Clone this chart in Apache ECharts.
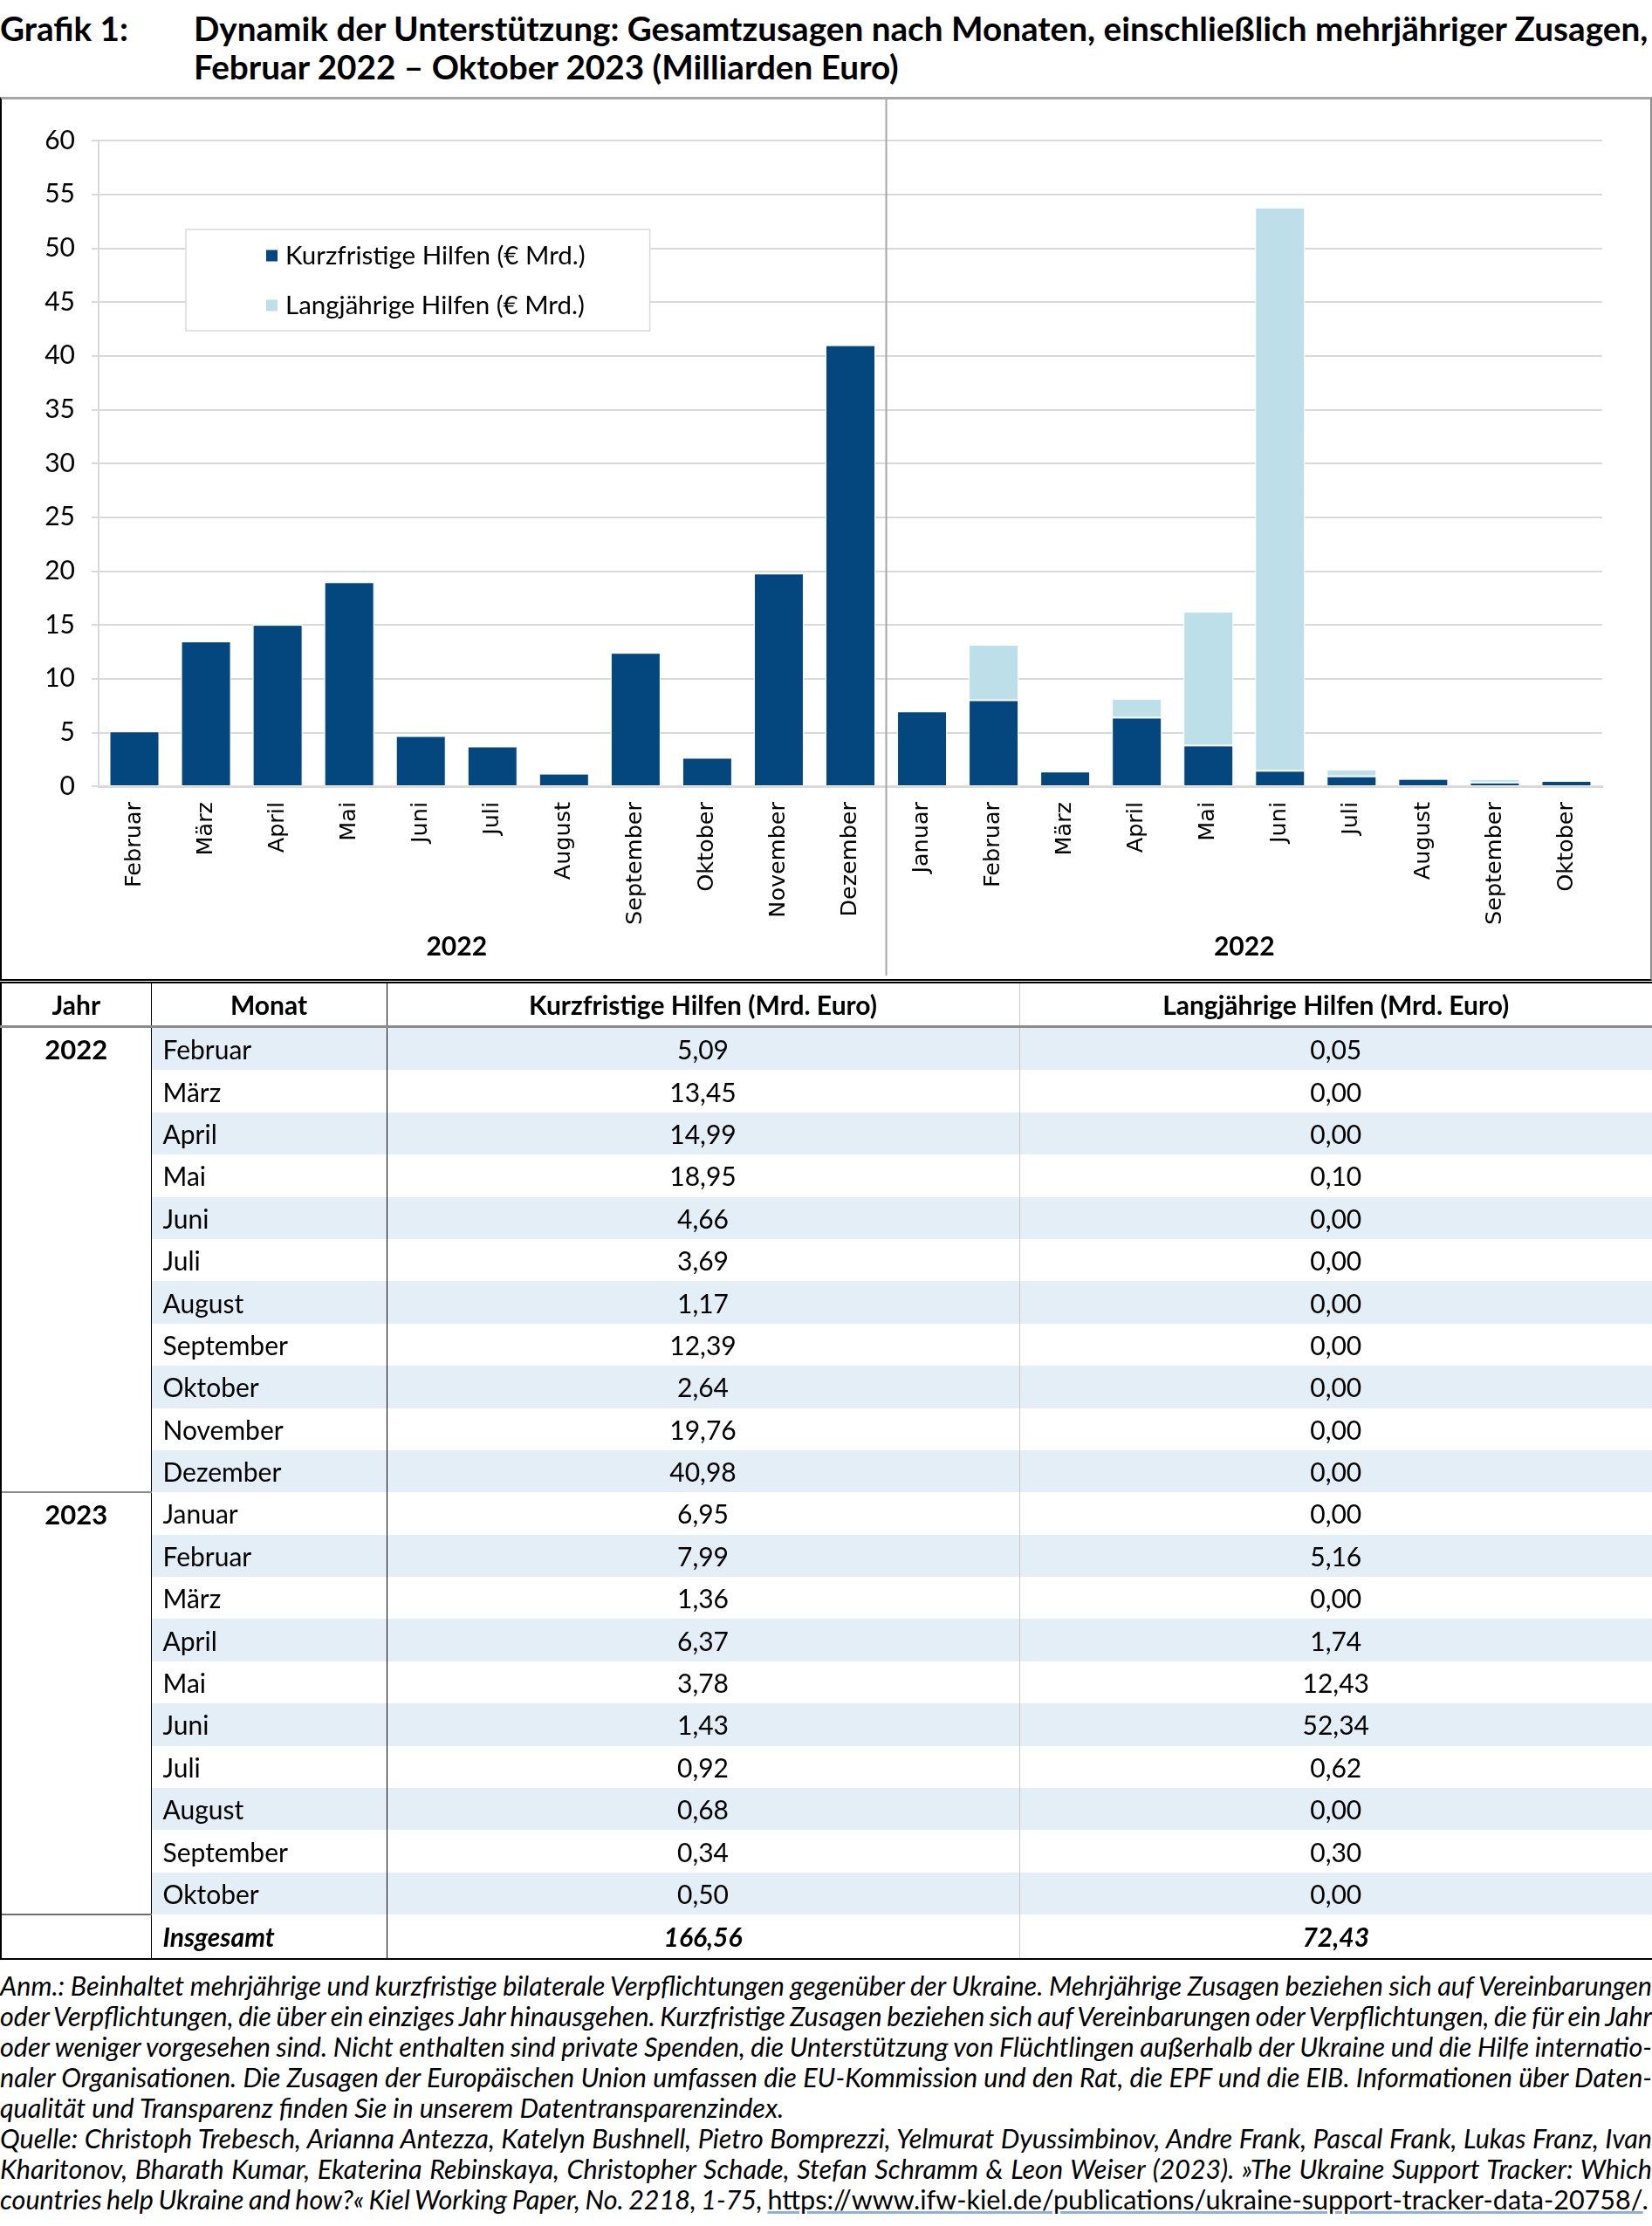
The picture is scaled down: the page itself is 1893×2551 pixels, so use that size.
<!DOCTYPE html>
<html>
<head>
<meta charset="utf-8">
<script src="https://cdn.jsdelivr.net/npm/echarts@6/dist/echarts.min.js"></script>
<style>
  html, body { margin:0; padding:0; background:#fff; }
  body { width:1893px; height:2551px; position:relative; overflow:hidden; font-family:Lato, "Noto Sans", sans-serif; color:#000; }
  #title { position:absolute; top:10px; left:0; width:1893px; font-weight:bold; font-size:38.7px; line-height:44px; }
  #title .lab { position:absolute; left:0; top:0; }
  #title .txt { position:absolute; left:222px; top:0; white-space:nowrap; }
  #chart { position:absolute; top:112px; left:0; width:1893px; height:1010px; }
  #frame { position:absolute; top:111px; left:0; width:1893px; height:1013px; box-sizing:border-box;
           border-top:3px solid #a6a6a6; border-left:2px solid #000; border-right:2px solid #8c8c8c; border-bottom:2px solid #000; pointer-events:none; }
  table#tab { position:absolute; top:1125px; left:0; width:1893px; border-collapse:collapse; table-layout:fixed; font-size:30px; }
  #tab td, #tab th { padding:0; overflow:hidden; white-space:nowrap; }
  #tab th { font-weight:bold; text-align:center !important; padding-left:0 !important; height:48px; border-top:2px solid #000; border-bottom:3px solid #8c8c8c; font-size:30px; }
  #tab td { height:48.4px; }
  #tab .c0 { border-left:2px solid #000; border-right:1.5px solid #000; text-align:center; vertical-align:top; font-weight:bold; font-size:31px; line-height:48px; }
  #tab .c1 { border-right:1.5px solid #000; text-align:left; padding-left:13px; }
  #tab .c2 { border-right:1px solid #c8c8c8; text-align:center; }
  #tab .c3 { border-right:2px solid #000; text-align:center; }
  #tab tr.s td.c1, #tab tr.s td.c2, #tab tr.s td.c3 { background:#e3eef7; }
  #tab td.ysep { border-top:2px solid #8c8c8c; }
  #tab tr.tot td { font-weight:bold; font-style:italic; border-bottom:2px solid #000; height:49px; }
  #tab tr.tot td.c0 { border-top:2px solid #6d6d6d; }
  #notes { position:absolute; top:2258px; left:0; width:1893px; font-style:italic; font-size:30.5px; line-height:35px; }
  #notes div { white-space:nowrap; text-align:justify; text-align-last:justify; }
  #notes div.last { text-align:left; text-align-last:left; }
  #notes .url { font-style:normal; text-decoration:underline; text-decoration-color:#8fb0d8; }
</style>
</head>
<body>
<div id="title">
  <div class="lab">Grafik 1:</div>
  <div class="txt">Dynamik der Unterstützung: Gesamtzusagen nach Monaten, einschließlich mehrjähriger Zusagen,<br>Februar 2022 – Oktober 2023 (Milliarden Euro)</div>
</div>
<div id="chart"></div>
<div id="frame"></div>
<table id="tab"></table>
<div id="notes">
  <div>Anm.: Beinhaltet mehrjährige und kurzfristige bilaterale Verpflichtungen gegenüber der Ukraine. Mehrjährige Zusagen beziehen sich auf Vereinbarungen</div>
  <div>oder Verpflichtungen, die über ein einziges Jahr hinausgehen. Kurzfristige Zusagen beziehen sich auf Vereinbarungen oder Verpflichtungen, die für ein Jahr</div>
  <div>oder weniger vorgesehen sind. Nicht enthalten sind private Spenden, die Unterstützung von Flüchtlingen außerhalb der Ukraine und die Hilfe internatio-</div>
  <div>naler Organisationen. Die Zusagen der Europäischen Union umfassen die EU-Kommission und den Rat, die EPF und die EIB. Informationen über Daten-</div>
  <div class="last">qualität und Transparenz finden Sie in unserem Datentransparenzindex.</div>
  <div>Quelle: Christoph Trebesch, Arianna Antezza, Katelyn Bushnell, Pietro Bomprezzi, Yelmurat Dyussimbinov, Andre Frank, Pascal Frank, Lukas Franz, Ivan</div>
  <div>Kharitonov, Bharath Kumar, Ekaterina Rebinskaya, Christopher Schade, Stefan Schramm &amp; Leon Weiser (2023). »The Ukraine Support Tracker: Which</div>
  <div class="last">countries help Ukraine and how?« Kiel Working Paper, No. 2218, 1-75, <span class="url">https://www.ifw-kiel.de/publications/ukraine-support-tracker-data-20758/</span>.</div>
</div>
<script>
// ---- data ----
const months2022 = ['Februar','März','April','Mai','Juni','Juli','August','September','Oktober','November','Dezember'];
const months2023 = ['Januar','Februar','März','April','Mai','Juni','Juli','August','September','Oktober'];
const kurz2022 = [5.09,13.45,14.99,18.95,4.66,3.69,1.17,12.39,2.64,19.76,40.98];
const kurz2023 = [6.95,7.99,1.36,6.37,3.78,1.43,0.92,0.68,0.34,0.50];
const lang2022 = [0.05,0.00,0.00,0.10,0.00,0.00,0.00,0.00,0.00,0.00,0.00];
const lang2023 = [0.00,5.16,0.00,1.74,12.43,52.34,0.62,0.00,0.30,0.00];
const totalKurz = 166.56;
const totalLang = 72.43;
const chartYearLabels = ['2022','2022'];
const tableYears = ['2022','2023'];
const seriesNames = ['Kurzfristige Hilfen (€ Mrd.)','Langjährige Hilfen (€ Mrd.)'];
const tableHeaders = ['Jahr','Monat','Kurzfristige Hilfen (Mrd. Euro)','Langjährige Hilfen (Mrd. Euro)'];
const totalLabel = 'Insgesamt';
const yMin = 0, yMax = 60, yStep = 5;

const DARK = '#04477f', LIGHT = '#bcdfea', GRID = '#d9d9d9';

// ---- chart ----
const chart = echarts.init(document.getElementById('chart'), null, {renderer:'canvas'});
const cats = months2022.concat(months2023);
const kurz = kurz2022.concat(kurz2023);
const lang = lang2022.concat(lang2023);
const option = {
  animation:false,
  grid:{left:113, right:57, top:49, bottom:221, containLabel:false},
  legend:{
    orient:'vertical', left:213, top:151,
    padding:[15,74,14,90], itemGap:27, itemWidth:15, itemHeight:15, icon:'rect',
    backgroundColor:'#fff', borderColor:GRID, borderWidth:1.5,
    textStyle:{fontFamily:'Lato', fontSize:29.5, color:'#000', padding:[0,0,0,3]},
    data:seriesNames
  },
  xAxis:{
    type:'category', data:cats,
    axisLine:{show:true, lineStyle:{color:GRID, width:3}},
    axisTick:{show:false},
    axisLabel:{interval:0, rotate:90, margin:18, fontFamily:'DejaVu Sans', fontSize:25.5, color:'#000'}
  },
  yAxis:{
    type:'value', min:yMin, max:yMax, interval:yStep,
    axisLine:{show:true, lineStyle:{color:GRID, width:2}},
    axisTick:{show:true, length:8, lineStyle:{color:GRID, width:2}},
    splitLine:{show:true, lineStyle:{color:GRID, width:2}},
    axisLabel:{margin:27, fontFamily:'Lato', fontSize:30, color:'#000'}
  },
  series:[
    {name:seriesNames[0], type:'bar', stack:'t', data:kurz, barWidth:'69.5%',
     itemStyle:{color:DARK, borderColor:'#fff', borderWidth:1}},
    {name:seriesNames[1], type:'bar', stack:'t', data:lang, barWidth:'69.5%',
     itemStyle:{color:LIGHT, borderColor:'#fff', borderWidth:1}}
  ]
};
chart.setOption(option);
const px = i => chart.convertToPixel({xAxisIndex:0}, i);
const n1 = months2022.length;
const divX = (px(n1-1) + px(n1)) / 2;
const leftLabX = (px(4) + px(5)) / 2;
const rightLabX = (px(n1+4) + px(n1+5)) / 2;
chart.setOption({
  graphic:[
    {type:'line', shape:{x1:divX, y1:0, x2:divX, y2:1006}, style:{stroke:'#a6a6a6', lineWidth:2}, z:100},
    {type:'text', x:leftLabX, y:973, style:{text:chartYearLabels[0], font:'bold 30px Lato', fill:'#000', textAlign:'center', textVerticalAlign:'middle'}},
    {type:'text', x:rightLabX, y:973, style:{text:chartYearLabels[1], font:'bold 30px Lato', fill:'#000', textAlign:'center', textVerticalAlign:'middle'}}
  ]
});

// ---- table ----
const fmt = v => v.toFixed(2).replace('.', ',');
const tab = document.getElementById('tab');
let html = '<colgroup><col style="width:172px"><col style="width:270px"><col style="width:725px"><col style="width:726px"></colgroup>';
html += '<tr>' + tableHeaders.map((h,i)=>`<th class="c${i}" style="${i===0?'font-size:30px;line-height:normal;vertical-align:middle':''}">${h}</th>`).join('') + '</tr>';
let rowIdx = 0;
const groups = [[months2022,kurz2022,lang2022],[months2023,kurz2023,lang2023]];
groups.forEach((g, gi) => {
  g[0].forEach((m, i) => {
    const cls = (rowIdx % 2 === 0) ? 's' : '';
    let r = `<tr class="${cls}">`;
    if (i === 0) r += `<td class="c0${gi>0?' ysep':''}" rowspan="${g[0].length}">${tableYears[gi]}</td>`;
    r += `<td class="c1">${m}</td><td class="c2">${fmt(g[1][i])}</td><td class="c3">${fmt(g[2][i])}</td></tr>`;
    html += r; rowIdx++;
  });
});
html += `<tr class="tot"><td class="c0"></td><td class="c1">${totalLabel}</td><td class="c2">${fmt(totalKurz)}</td><td class="c3">${fmt(totalLang)}</td></tr>`;
tab.innerHTML = html;

// ---- fit justified footnote lines (compress word spacing if too long) ----
function fitNotes(){
  const W = 1893;
  document.querySelectorAll('#notes div').forEach(d => {
    d.style.wordSpacing = '0px';
    d.style.display = 'inline-block';
    const w = d.getBoundingClientRect().width;
    d.style.display = 'block';
    if (w > W) {
      const n = (d.textContent.trim().match(/ /g) || []).length;
      if (n) d.style.wordSpacing = ((W - w) / n - 0.3) + 'px';
    }
  });
}
fitNotes();
if (document.fonts && document.fonts.ready) document.fonts.ready.then(fitNotes);
</script>
</body>
</html>
